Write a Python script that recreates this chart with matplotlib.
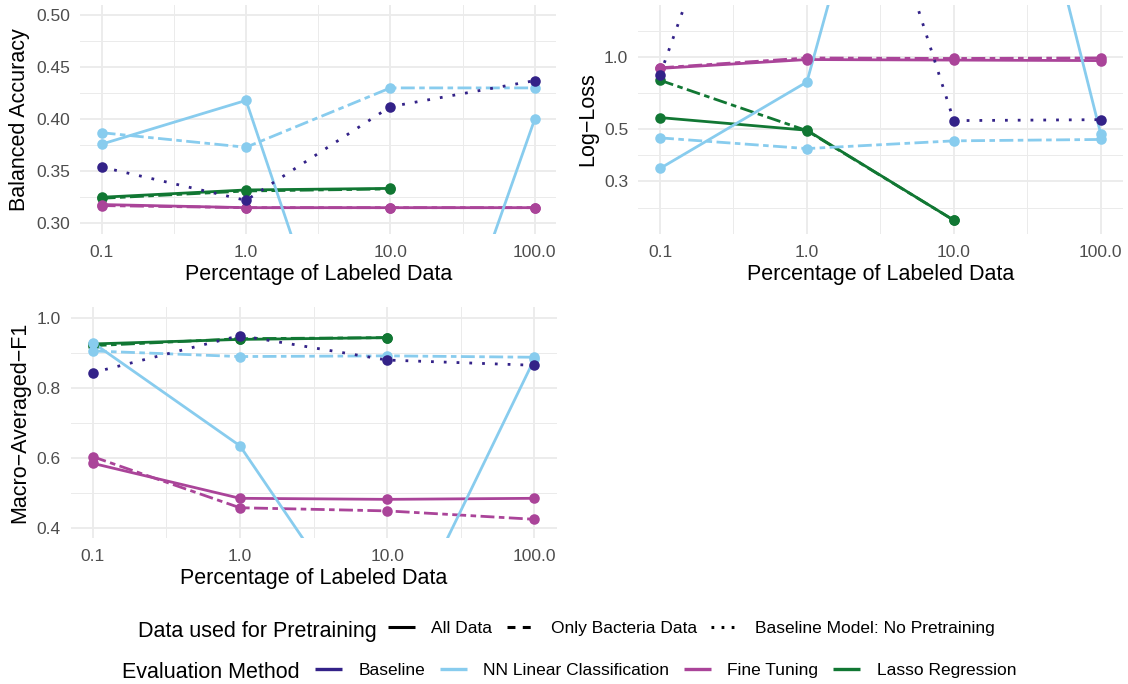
import matplotlib
matplotlib.use("Agg")
import numpy as np
import matplotlib.pyplot as plt
from matplotlib.lines import Line2D

plt.rcParams['font.family'] = ['Liberation Sans', 'DejaVu Sans']

# percentage of labeled data
pct = [0.1, 1.0, 10.0, 100.0]
pct_labels = ["0.1", "1.0", "10.0", "100.0"]

# balanced accuracy
bacc_baseline = [0.354, 0.322, 0.412, 0.437]
bacc_nn_all = [0.376, 0.418, 0.006, 0.400]
bacc_nn_bact = [0.387, 0.373, 0.430, 0.430]
bacc_ft_all = [0.318, 0.315, 0.315, 0.315]
bacc_ft_bact = [0.317, 0.315, 0.315, 0.315]
bacc_lasso_all = [0.325, 0.332, 0.3335]
bacc_lasso_bact = [0.324, 0.331, 0.333]

# log-loss
ll_baseline = [0.84, 46.0, 0.54, 0.545]
ll_nn_all = [0.34, 0.785, 135.0, 0.476]
ll_nn_bact = [0.457, 0.412, 0.444, 0.450]
ll_ft_all = [0.895, 0.975, 0.970, 0.965]
ll_ft_bact = [0.900, 0.990, 0.985, 0.990]
ll_lasso_all = [0.556, 0.492, 0.206]
ll_lasso_bact = [0.798, 0.490, 0.206]

# macro averaged F1
f1_baseline = [0.843, 0.949, 0.879, 0.864]
f1_nn_all = [0.929, 0.634, 0.015, 0.882]
f1_nn_bact = [0.905, 0.889, 0.891, 0.887]
f1_ft_all = [0.584, 0.484, 0.481, 0.484]
f1_ft_bact = [0.603, 0.457, 0.448, 0.424]
f1_lasso_all = [0.925, 0.938, 0.943]
f1_lasso_bact = [0.920, 0.940, 0.943]

pretrain_labels = ["All Data", "Only Bacteria Data", "Baseline Model: No Pretraining"]
method_labels = ["Baseline", "NN Linear Classification", "Fine Tuning", "Lasso Regression"]

C_BASE = "#332288"
C_NN = "#88CCEE"
C_FT = "#AA4499"
C_LASSO = "#117733"

SOLID = '-'
DASH = (0, (5, 1.6, 2, 1.6))
DOT = (0, (1, 3.6))
LW = 2.0
MS = 7.6
GRID = "#EBEBEB"
TICKC = "#4D4D4D"

W, H = 1128, 684
fig = plt.figure(figsize=(W / 100, H / 100), dpi=100)


def px_rect(left, top, right, bottom):
    return [left / W, 1 - bottom / H, (right - left) / W, (bottom - top) / H]


def style_axis(ax, ylabel, yticks, yticklabels, yminor):
    ax.set_xscale('log')
    lo, hi = np.log10(0.1), np.log10(100)
    pad = 0.05 * (hi - lo)
    ax.set_xlim(10 ** (lo - pad), 10 ** (hi + pad))
    ax.set_xticks(pct)
    ax.set_xticklabels(pct_labels)
    ax.set_xticks([10 ** -0.5, 10 ** 0.5, 10 ** 1.5], minor=True)
    ax.set_yticks(yticks)
    ax.set_yticklabels(yticklabels)
    ax.set_yticks(yminor, minor=True)
    ax.tick_params(which='both', length=0)
    ax.tick_params(axis='x', which='major', pad=8, labelsize=12.5, labelcolor=TICKC)
    ax.tick_params(axis='y', which='major', pad=7, labelsize=12.5, labelcolor=TICKC)
    ax.tick_params(which='minor', labelbottom=False, labelleft=False)
    ax.grid(True, which='major', color=GRID, lw=1.3)
    ax.grid(True, which='minor', color=GRID, lw=0.7)
    ax.set_axisbelow(True)
    for s in ax.spines.values():
        s.set_visible(False)
    ax.set_xlabel("Percentage of Labeled Data", fontsize=15.5, labelpad=3)
    ax.set_ylabel(ylabel, fontsize=15.5, labelpad=4.5)


def draw(ax, series):
    for vals, color, ls in series:
        ax.plot(pct[:len(vals)], vals, color=color, lw=LW, ls=ls,
                dash_capstyle='butt', solid_capstyle='butt', zorder=2)
    for vals, color, ls in series:
        ax.plot(pct[:len(vals)], vals, ls='none', marker='o', ms=MS,
                mfc=color, mec='none', zorder=3)


# Balanced accuracy
ax1 = fig.add_axes(px_rect(80, 4.6, 556.4, 233.7))
draw(ax1, [
    (bacc_lasso_bact, C_LASSO, DASH), (bacc_lasso_all, C_LASSO, SOLID),
    (bacc_ft_bact, C_FT, DASH), (bacc_ft_all, C_FT, SOLID),
    (bacc_nn_bact, C_NN, DASH), (bacc_nn_all, C_NN, SOLID),
    (bacc_baseline, C_BASE, DOT),
])
style_axis(ax1, "Balanced Accuracy", [0.30, 0.35, 0.40, 0.45, 0.50],
           ["0.30", "0.35", "0.40", "0.45", "0.50"], [0.325, 0.375, 0.425, 0.475])
ax1.set_ylim(0.29, 0.51)

# Log-loss
ax2 = fig.add_axes(px_rect(638, 4.6, 1122.7, 233.7))
draw(ax2, [
    (ll_lasso_bact, C_LASSO, DASH), (ll_lasso_all, C_LASSO, SOLID),
    (ll_ft_bact, C_FT, DASH), (ll_ft_all, C_FT, SOLID),
    (ll_nn_bact, C_NN, DASH), (ll_nn_all, C_NN, SOLID),
    (ll_baseline, C_BASE, DOT),
])
ax2.set_yscale('log')
ll_major = [0.3, 0.5, 1.0]
step = np.log10(0.5) - np.log10(0.3)
ll_minor = [10 ** (np.log10(0.3) - step / 2), np.sqrt(0.3 * 0.5), np.sqrt(0.5 * 1.0), 10 ** (step / 2)]
style_axis(ax2, "Log\u2212Loss", ll_major, ["0.3", "0.5", "1.0"], ll_minor)
lo, hi = np.log10(0.2), np.log10(1.5)
pad = 0.05 * (hi - lo)
ax2.set_ylim(10 ** (lo - pad), 10 ** (hi + pad))

# Macro F1
ax3 = fig.add_axes(px_rect(70.6, 307.2, 556.5, 538.2))
draw(ax3, [
    (f1_lasso_bact, C_LASSO, DASH), (f1_lasso_all, C_LASSO, SOLID),
    (f1_ft_bact, C_FT, DASH), (f1_ft_all, C_FT, SOLID),
    (f1_nn_bact, C_NN, DASH), (f1_nn_all, C_NN, SOLID),
    (f1_baseline, C_BASE, DOT),
])
style_axis(ax3, "Macro\u2212Averaged\u2212F1", [0.4, 0.6, 0.8, 1.0],
           ["0.4", "0.6", "0.8", "1.0"], [0.5, 0.7, 0.9])
ax3.set_ylim(0.37, 1.03)

# legends
pre_handles = [
    Line2D([], [], color='black', lw=2.2, ls='-', solid_capstyle='butt'),
    Line2D([], [], color='black', lw=2.2, ls=(0, (2.6, 2.4)), dash_capstyle='butt'),
    Line2D([], [], color='black', lw=2.2, ls=(0, (0.9, 2.4)), dash_capstyle='butt'),
]
fig.legend(pre_handles, pretrain_labels, ncol=3, loc='center left',
           bbox_to_anchor=(388 / W, 1 - 628 / H), frameon=False, fontsize=12.5,
           handlelength=1.55, handletextpad=0.95, columnspacing=0.85,
           borderpad=0, borderaxespad=0)
fig.text(138 / W, 1 - 636.7 / H, "Data used for Pretraining", fontsize=15.5, va='baseline')

method_handles = [Line2D([], [], color=c, lw=2.4, solid_capstyle='butt')
                  for c in [C_BASE, C_NN, C_FT, C_LASSO]]
fig.legend(method_handles, method_labels, ncol=4, loc='center left',
           bbox_to_anchor=(315 / W, 1 - 670 / H), frameon=False, fontsize=12.5,
           handlelength=1.55, handletextpad=0.95, columnspacing=0.85,
           borderpad=0, borderaxespad=0)
fig.text(122 / W, 1 - 677.7 / H, "Evaluation Method", fontsize=15.5, va='baseline')

fig.savefig("out.png", dpi=100)
